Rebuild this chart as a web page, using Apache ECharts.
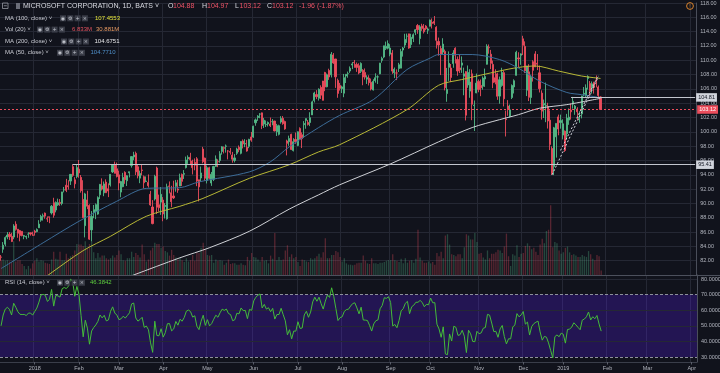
<!DOCTYPE html>
<html><head><meta charset="utf-8">
<script src="https://cdn.jsdelivr.net/npm/echarts/dist/echarts.min.js"></script>
<style>html,body{margin:0;padding:0;background:#11131c;overflow:hidden}#c{width:720px;height:373px}</style>
</head><body><div id="c"></div>
<script>
// ---------------- DATA ----------------
const monthLabels = ['2018','Feb','Mar','Apr','May','Jun','Jul','Aug','Sep','Oct','Nov','Dec','2019','Feb','Mar','Apr'];
const monthStartIdx = [16,37,56,77,98,120,141,162,185,204,227,248,267,288,307,328];
const totalSlots = 331; // trading-day slots incl. empty future space

// daily candles [open, high, low, close], 7 Dec 2017 .. 29 Jan 2019
const candles = [
// Dec 2017
[82.5,82.8,82.0,82.49],[83.6,84.6,83.1,84.16],[84.3,85.4,84.0,85.23],[85.3,86.0,85.0,85.58],[85.7,86.0,84.9,85.35],[85.4,85.9,84.6,84.69],[85.3,87.1,85.0,86.85],[87.1,87.5,86.2,86.38],[86.4,86.4,85.2,85.83],[86.2,86.3,84.7,85.52],[86.1,86.1,85.4,85.5],[85.4,85.6,85.0,85.51],[85.3,85.5,85.0,85.4],[85.7,85.98,85.2,85.71],[85.9,85.9,85.5,85.72],[85.6,86.05,85.5,85.54],
// Jan 2018
[86.13,86.31,85.5,85.95],[86.06,86.51,85.97,86.35],[86.59,87.66,86.57,87.11],[87.66,88.41,87.43,88.19],[88.2,88.58,87.6,88.28],[88.65,88.73,87.86,88.22],[87.86,88.19,87.41,87.82],[88.13,88.13,87.24,88.08],[88.67,89.78,88.45,89.6],[90.1,90.79,88.01,88.35],[89.08,90.28,88.75,90.14],[89.8,90.67,89.66,90.1],[90.14,90.61,89.66,90.0],[90.0,91.62,89.74,91.61],[91.9,92.3,91.54,91.9],[92.55,93.43,91.58,91.82],[92.47,93.24,91.93,92.33],[93.12,94.06,92.58,94.06],[95.14,95.45,93.72,93.92],[93.3,93.66,92.1,92.74],[93.75,95.4,93.51,95.01],
// Feb
[94.79,96.07,93.58,94.26],[93.64,93.97,91.5,91.78],[90.56,93.24,88.0,88.0],[86.89,91.48,85.25,91.33],[90.49,91.77,89.2,89.61],[89.71,89.88,84.9,85.01],[86.3,88.93,84.7,88.18],[88.74,89.78,87.93,89.13],[88.93,90.0,87.8,89.83],[88.51,90.99,88.41,90.81],[91.21,92.72,90.62,92.66],[92.45,93.5,91.8,92.0],[91.48,93.06,91.01,92.72],[92.98,93.36,91.49,91.49],[92.05,92.8,90.88,91.73],[92.59,94.07,92.36,94.06],[94.4,95.45,94.25,95.42],[95.36,95.84,94.2,94.2],[94.84,95.71,93.63,93.77],
// Mar
[93.99,94.57,91.84,92.85],[91.58,93.15,90.86,93.05],[92.34,94.27,92.26,93.64],[94.34,94.49,92.74,93.32],[93.16,93.94,92.43,93.86],[94.27,94.43,93.63,94.43],[95.29,96.54,95.0,96.54],[96.5,97.21,96.04,96.77],[97.0,97.24,93.97,94.41],[95.12,95.41,93.5,93.85],[93.53,94.58,92.83,94.18],[94.68,95.38,93.92,94.6],[93.74,93.9,92.11,92.89],[93.05,93.77,93.0,93.13],[92.93,94.05,92.21,92.48],[91.27,91.75,89.66,89.79],[89.5,90.46,87.08,87.18],[90.61,94.0,90.4,93.78],[94.94,95.14,88.51,89.47],[89.82,91.23,88.87,89.39],[90.18,92.29,88.4,91.27],
// Apr
[90.47,90.88,87.51,88.52],[89.58,90.05,87.89,89.71],[87.85,92.76,87.73,92.33],[92.44,93.07,91.4,92.38],[91.49,92.46,89.48,90.23],[91.04,93.17,90.62,90.77],[92.39,93.28,91.64,92.88],[92.01,93.29,91.48,91.86],[92.43,94.16,92.43,93.58],[94.05,94.18,92.44,93.08],[94.07,94.66,93.42,94.17],[95.0,96.54,94.88,96.07],[96.22,96.72,95.52,96.44],[96.44,97.07,95.34,96.11],[95.91,96.11,94.05,95.0],[95.74,96.29,94.63,95.35],[96.24,96.47,92.41,93.12],[93.3,93.3,90.28,92.31],[93.55,95.15,93.1,94.26],[97.6,97.9,95.6,95.82],[96.33,96.4,93.15,93.52],
// May
[93.21,95.29,92.79,95.0],[94.99,95.12,93.4,93.51],[92.85,94.4,92.45,94.07],[93.37,95.25,93.12,95.16],[95.17,96.71,95.1,96.22],[95.85,96.16,95.06,95.81],[96.01,97.3,95.68,96.94],[97.26,98.0,96.81,97.91],[97.79,97.95,96.98,97.7],[97.98,98.23,97.1,98.03],[97.33,97.45,96.15,97.32],[97.26,97.74,96.83,97.15],[96.75,97.2,95.69,96.18],[96.01,96.89,95.73,96.36],[97.0,97.78,96.78,97.6],[97.85,98.1,97.16,97.5],[97.0,98.69,96.86,98.66],[98.73,98.94,97.68,98.31],[98.3,98.98,97.86,98.36],[97.84,98.88,97.23,97.32],[97.98,99.03,97.72,98.95],[99.29,99.99,98.61,98.84],
// Jun
[99.28,100.86,99.17,100.79],[101.26,101.86,100.85,101.67],[102.0,102.33,101.53,102.19],[102.48,102.6,101.9,102.49],[102.65,102.69,100.38,100.88],[101.09,101.95,100.54,101.63],[101.01,101.59,100.67,101.05],[101.1,101.45,100.75,101.31],[101.1,102.0,100.67,100.85],[101.42,101.79,100.92,101.42],[101.51,101.53,100.07,100.13],[100.01,101.11,99.42,100.86],[99.65,101.0,99.5,100.86],[101.37,102.19,101.14,101.87],[101.9,102.21,100.99,101.14],[101.44,101.57,100.29,100.41],[98.73,98.9,96.71,98.39],[98.63,99.47,98.05,99.08],[99.66,99.74,97.45,97.54],[97.38,99.11,97.26,98.63],[98.93,99.91,98.33,98.61],
// Jul
[98.1,100.06,98.0,100.01],[100.48,100.63,98.94,98.99],[99.59,99.92,97.73,99.05],[101.0,101.5,99.16,101.16],[101.6,101.85,100.43,101.85],[101.31,101.65,100.88,101.03],[101.3,102.74,100.8,101.98],[102.37,104.36,102.35,104.19],[104.37,105.6,104.1,105.43],[105.21,105.83,104.57,104.91],[104.7,106.08,104.37,105.95],[106.22,106.5,104.59,105.12],[107.1,107.12,104.4,104.4],[108.3,108.38,105.68,106.27],[106.3,108.14,106.22,107.97],[108.57,108.82,107.26,107.66],[107.96,111.15,107.6,110.83],[110.74,111.0,109.5,109.62],[110.18,110.18,106.14,107.68],[107.19,107.44,104.76,105.37],[106.49,106.84,105.77,106.08],
// Aug
[106.03,106.45,105.42,106.28],[105.4,108.09,104.84,107.57],[107.8,108.05,106.82,108.04],[108.12,108.42,107.56,108.13],[108.5,109.14,108.24,108.88],[109.33,109.75,108.76,109.49],[109.71,110.04,108.95,109.67],[109.42,109.69,108.38,109.0],[109.24,109.58,108.05,108.21],[108.45,109.71,108.21,109.56],[108.6,108.76,106.51,107.66],[108.3,108.86,107.3,107.64],[107.36,107.9,106.69,107.58],[107.51,107.9,106.48,106.87],[106.92,107.45,105.78,105.98],[105.85,107.35,105.77,107.06],[107.15,108.18,106.87,107.56],[107.67,107.9,106.69,107.68],[108.1,109.64,108.05,109.6],[109.99,110.5,109.66,110.26],[110.45,112.03,110.29,112.02],[111.67,112.61,111.44,111.95],[111.69,112.78,111.52,112.33],
// Sep
[110.85,112.24,110.56,111.71],[111.01,111.42,108.1,108.49],[108.25,108.99,107.51,108.74],[108.23,108.72,107.23,108.21],[108.84,109.64,108.36,109.38],[108.9,111.59,108.89,111.24],[111.43,111.85,110.51,111.71],[112.12,113.7,111.72,112.91],[113.36,113.73,112.44,113.37],[113.69,113.7,111.6,111.7],[112.19,113.7,111.72,113.21],[113.05,113.75,112.54,113.57],[113.9,114.35,113.51,114.26],[114.85,115.06,113.7,114.26],[113.03,114.9,112.22,114.67],[114.8,115.1,114.11,114.45],[114.47,115.06,113.74,113.98],[114.78,114.91,114.2,114.41],[114.19,114.57,113.68,114.37],
// Oct
[114.75,115.68,114.73,115.61],[115.3,115.84,114.44,115.15],[115.42,116.18,114.93,115.17],[114.61,114.76,111.63,112.79],[112.63,113.17,110.64,112.13],[111.66,112.03,107.93,110.85],[111.14,113.08,110.8,112.26],[111.24,111.5,105.79,106.16],[105.35,108.93,104.2,105.91],[109.01,111.24,107.12,109.57],[108.91,109.48,106.95,107.6],[109.54,111.41,108.95,111.0],[111.68,111.81,109.55,110.71],[110.1,110.53,107.83,108.5],[108.93,110.86,108.21,108.66],[109.32,110.54,108.24,109.63],[107.77,108.97,105.11,108.1],[108.41,108.49,101.59,102.32],[106.55,109.27,106.15,108.3],[105.69,108.75,104.76,106.96],[108.11,108.7,101.63,103.85],[103.66,104.38,100.11,103.73],[105.44,108.14,105.39,106.81],
// Nov
[107.05,107.32,105.53,105.92],[106.48,107.32,104.98,106.16],[106.37,107.74,105.9,107.51],[107.38,108.84,106.28,107.72],[109.44,112.24,109.4,111.96],[111.8,112.21,110.91,111.75],[110.85,111.45,108.76,109.57],[109.42,109.96,106.1,106.87],[107.55,108.74,106.64,106.94],[108.1,108.26,104.47,104.97],[104.99,107.72,103.93,107.28],[106.48,108.95,106.3,108.29],[108.27,108.56,103.55,104.62],[101.8,102.97,99.35,101.71],[103.6,104.43,102.24,103.11],[102.17,103.81,102.0,103.07],[104.79,106.63,104.58,106.47],[106.27,107.33,105.36,107.14],[107.89,111.33,107.86,111.12],[110.33,111.12,109.03,110.19],[110.7,110.97,109.36,110.89],
// Dec
[113.0,113.42,110.73,112.09],[111.94,112.64,108.21,108.52],[105.82,109.24,105.0,109.19],[108.38,109.45,104.3,104.82],[104.8,107.98,103.89,107.59],[109.8,110.0,107.02,108.59],[110.89,111.27,109.04,109.08],[109.58,110.87,108.63,109.45],[108.25,109.26,105.5,106.03],[105.41,105.8,101.71,102.89],[103.75,104.51,101.93,103.97],[103.65,106.88,101.35,103.69],[103.54,104.06,100.46,101.51],[101.63,103.0,97.46,98.23],[97.68,97.97,93.98,94.13],[95.14,100.69,93.96,100.56],[99.3,101.19,96.4,101.18],[102.09,102.41,99.52,100.39],[101.29,102.4,100.44,101.57],
// Jan 2019
[99.55,101.75,98.94,101.12],[100.1,100.19,97.2,97.4],[99.72,102.51,98.93,101.93],[101.64,103.27,100.98,102.06],[103.04,103.97,101.71,102.8],[103.86,104.88,103.24,104.27],[103.22,103.75,102.38,103.6],[103.19,103.44,101.64,102.8],[101.9,102.87,101.26,102.05],[102.51,105.05,101.88,105.01],[105.26,106.26,104.96,105.38],[105.0,106.63,104.76,106.12],[107.46,107.9,105.91,107.71],[106.75,107.1,104.86,105.68],[106.12,107.04,105.34,106.71],[106.86,107.0,105.34,106.2],[107.24,107.88,106.2,107.17],[106.26,106.48,104.66,105.08],[104.88,104.97,103.12,103.12]
];

// daily volume, millions
const volumes = [
23,24,22,23,21,20,52,21,23,23,17,14,9,14,10,18,
22,26,21,23,22,19,18,17,24,36,25,24,36,23,23,33,26,29,31,38,48,
47,47,45,52,41,48,52,35,26,34,27,30,30,26,24,26,30,27,31,
38,32,23,22,26,26,36,28,34,31,27,47,32,21,24,38,42,50,48,48,42,
44,37,35,30,39,31,27,24,27,23,20,26,21,23,31,22,35,34,42,50,40,
31,30,31,19,24,22,23,22,16,19,24,17,18,18,16,16,18,16,15,28,22,34,
28,27,24,21,28,22,23,18,30,25,65,23,28,23,24,38,46,28,32,26,28,
20,14,24,23,21,20,26,24,26,29,33,27,35,57,26,26,31,31,37,35,28,
21,26,18,16,16,15,16,18,19,19,30,22,18,17,26,18,18,17,19,19,20,22,23,
23,32,23,22,20,25,18,26,19,22,23,19,25,70,27,22,19,19,21,
18,20,16,34,29,36,26,61,63,47,32,31,29,32,32,26,43,63,61,55,55,65,51,
33,34,27,24,38,26,33,33,35,39,38,34,44,64,29,14,32,30,46,28,33,
34,45,49,45,40,42,36,31,47,56,49,68,70,108,43,51,49,38,33,
35,42,44,35,31,32,30,28,28,31,29,28,37,32,25,23,31,29,6.833
];

// moving averages: [slot index, value]
const ma50Pts  = [[0,80.9],[20,84.5],[37,87.5],[55,90.3],[69,92.1],[85,92.2],[94,93.0],[118,94.4],[128,95.8],[137,97.9],[151,100.6],[161,102.3],[177,104.5],[193,108.7],[204,110.3],[208,110.8],[224,110.8],[237,110.1],[246,108.9],[256,107.1],[269,105.5],[276,105.2],[285,104.77]];
const ma100Pts = [[0,75.2],[22,79.9],[39,83.4],[52,85.4],[69,88.2],[85,89.6],[96,90.7],[118,93.5],[137,95.4],[151,97.2],[161,98.2],[193,103.1],[208,106.5],[219,107.3],[237,108.5],[246,109.0],[254,109.2],[265,108.5],[276,107.8],[285,107.46]];
const ma200Pts = [[0,73.2],[63,80.0],[85,82.4],[99,83.8],[118,86.1],[137,89.2],[151,91.2],[161,92.6],[185,95.5],[208,98.6],[224,100.6],[237,101.7],[246,102.4],[256,103.3],[269,103.8],[285,104.68]];

// drawings
const lastPrice = 103.12;
const hLevels = [{value:104.81, from:271}, {value:95.41, from:34}];
const trendLines = [[[262,94.0],[284,107.7]], [[266,97.4],[284,107.9]]];
const rsiSeedAvg = 0.4; // initial avg gain = avg loss (RSI 50 at first bar)
const rsiLevels = [30,40,50,60,70,80];

const titleText = 'MICROSOFT CORPORATION, 1D, BATS';
const ohlcText = ['O','104.88','H','104.97','L','103.12','C','103.12','-1.96 (-1.87%)'];
const legendTexts = [
  ['MA (100, close)', ['107.4553']],
  ['Vol (20)', ['6.833M','30.881M']],
  ['MA (200, close)', ['104.6751']],
  ['MA (50, close)', ['104.7710']]
];
const rsiLegend = ['RSI (14, close)', '46.3842'];

// ---------------- STYLE / LAYOUT ----------------
const BG = '#11131c', GRID = '#252834', TXT = '#b2b5be', FONT = 'Liberation Sans';
const UP = '#53b987', DOWN = '#eb4d5c';
const W = 697;

const slots = Array.from({length: totalSlots}, (_, i) => String(i));
const labelMap = {};
monthStartIdx.forEach((k, i) => { labelMap[k] = monthLabels[i]; });
const isMonth = (i) => labelMap[i] !== undefined;

// RSI (Wilder) from closes
const closes = candles.map(r => r[3]);
const rsi = [];
let ag = rsiSeedAvg, al = rsiSeedAvg;
rsi.push(+(100 - 100 / (1 + ag / al)).toFixed(2));
for (let i = 1; i < closes.length; i++) {
  const ch = closes[i] - closes[i - 1];
  ag = (ag * 13 + Math.max(ch, 0)) / 14;
  al = (al * 13 + Math.max(-ch, 0)) / 14;
  rsi.push(+(100 - 100 / (1 + ag / al)).toFixed(2));
}

const candleData = candles.map(r => [r[0], r[3], r[2], r[1]]);
const volData = volumes.map((v, i) => ({
  value: v,
  itemStyle: {color: candles[i][3] >= candles[i][0] ? 'rgba(83,185,135,0.32)' : 'rgba(235,77,92,0.32)'}
}));

const badge = (txt, bg, fg) => ({
  show: true, position: 'end', formatter: txt, distance: 1,
  backgroundColor: bg, color: fg, fontSize: 5.5, fontFamily: FONT,
  padding: [1.5, 2, 1, 2], borderRadius: 0
});

const priceMarks = [
  {yAxis: lastPrice, lineStyle: {color: DOWN, type: [2, 2], width: 1, opacity: 1}, label: badge(lastPrice.toFixed(2), DOWN, '#ffffff')}
];
hLevels.forEach(lv => {
  const st = {color: '#c3c6ce', type: 'solid', width: 1};
  priceMarks.push([
    {coord: [lv.from, lv.value], lineStyle: st, label: badge(lv.value.toFixed(2), '#d1d4dc', '#131722')},
    {coord: [totalSlots - 1, lv.value], lineStyle: st, label: badge(lv.value.toFixed(2), '#d1d4dc', '#131722')}
  ]);
});
trendLines.forEach(tl => {
  const st = {color: '#d1d4dc', type: [2, 2], width: 1};
  priceMarks.push([{coord: tl[0], lineStyle: st, label: {show: false}}, {coord: tl[1], lineStyle: st, label: {show: false}}]);
});

const rsiMarks = rsiLevels.map(v => ({
  yAxis: v,
  lineStyle: (v === 30 || v === 70) ? {color: '#8d909b', type: [3, 2], width: 1} : {color: GRID, type: 'solid', width: 1},
  label: {show: true, position: 'end', formatter: v.toFixed(4), color: TXT, fontSize: 5.5, fontFamily: FONT, distance: 4}
}));

// ---------------- GRAPHICS (legend) ----------------
const g = [];
const txt = (x, y, t, fill, size) => g.push({type: 'text', x: x, y: y, silent: true, z: 100,
  style: {text: t, fill: fill, fontSize: size, fontFamily: FONT, verticalAlign: 'middle', align: 'left'}});
const icons = (x0, y) => {
  const glyphs = ['◉', '⚙', '+', '×'];
  for (let i = 0; i < 4; i++) {
    const x = x0 + i * 7.3;
    g.push({type: 'rect', silent: true, z: 100, shape: {x: x, y: y - 3, width: 6, height: 6}, style: {fill: '#3a3d48'}});
    g.push({type: 'text', silent: true, z: 101, x: x + 3, y: y, style: {text: glyphs[i], fill: '#c3c6ce', fontSize: 5, fontFamily: 'DejaVu Sans', align: 'center', verticalAlign: 'middle'}});
  }
};
// title row
g.push({type: 'rect', silent: true, z: 100, shape: {x: 2.5, y: 3, width: 5.5, height: 5.5}, style: {fill: 'none', stroke: '#9598a1', lineWidth: 0.8}});
g.push({type: 'line', silent: true, z: 100, shape: {x1: 3.8, y1: 5.75, x2: 6.8, y2: 5.75}, style: {stroke: '#9598a1', lineWidth: 0.8}});
g.push({type: 'rect', silent: true, z: 100, shape: {x: 16, y: 3, width: 4, height: 6}, style: {fill: '#6a6d78'}});
txt(23, 6.3, titleText + ' ˅', '#d7d9e0', 7);
const ohlcX = [168, 173, 202, 207, 235, 239.5, 267, 272, 299];
ohlcText.forEach((t, i) => txt(ohlcX[i], 6.3, t, (i % 2 === 0 && i < 8) ? '#d7d9e0' : '#ee5366', 7));
// indicator rows
const rowY = [18.3, 29.6, 41.5, 52.8];
const rowIconX = [60, 37, 61, 57];
const rowValX = [[95], [72, 96], [94.5], [90.5]];
const rowValC = [['#e3e33a'], ['#e4525f', '#e99b63'], ['#e8e8ea'], ['#4f8fc9']];
legendTexts.forEach((r, i) => {
  txt(5, rowY[i], r[0] + ' ˅', '#c8cad2', 6);
  icons(rowIconX[i], rowY[i]);
  r[1].forEach((v, j) => txt(rowValX[i][j], rowY[i], v, rowValC[i][j], 6));
});
// RSI legend
txt(5, 282.7, rsiLegend[0] + ' ˅', '#c8cad2', 6);
icons(57, 282.7);
txt(90, 282.7, rsiLegend[1], '#5fd03f', 6);
// pane separator
g.push({type: 'line', silent: true, z: 90, shape: {x1: 0, y1: 275.5, x2: 720, y2: 275.5}, style: {stroke: '#4c505c', lineWidth: 1}});
// top-right icon
g.push({type: 'circle', silent: true, z: 100, shape: {cx: 690, cy: 6, r: 3.4}, style: {fill: 'none', stroke: '#d9822b', lineWidth: 1}});
g.push({type: 'text', silent: true, z: 100, x: 690, y: 6.2, style: {text: '!', fill: '#d9822b', fontSize: 5, fontFamily: FONT, align: 'center', verticalAlign: 'middle'}});

// ---------------- OPTION ----------------
const monthSplit = {show: true, interval: (i) => isMonth(i), lineStyle: {color: GRID, width: 1}};
const option = {
  animation: false,
  backgroundColor: BG,
  grid: [
    {left: 0, top: 0, width: W, height: 275},
    {left: 0, top: 178, width: W, height: 97},
    {left: 0, top: 275, width: W, height: 87}
  ],
  xAxis: [
    {type: 'category', gridIndex: 0, data: slots, boundaryGap: true, axisLine: {show: false}, axisTick: {show: false}, axisLabel: {show: false}, splitLine: monthSplit},
    {type: 'category', gridIndex: 1, data: slots, boundaryGap: true, show: false},
    {type: 'category', gridIndex: 2, data: slots, boundaryGap: true,
      axisLine: {show: true, lineStyle: {color: '#3a3e4a'}},
      axisTick: {show: true, interval: (i) => isMonth(i), length: 2.5, alignWithLabel: true, lineStyle: {color: '#5a5e6a'}},
      axisLabel: {interval: (i) => isMonth(i), formatter: (v) => labelMap[+v] || '', color: TXT, fontSize: 5.5, fontFamily: FONT, margin: 3.5},
      splitLine: monthSplit}
  ],
  yAxis: [
    {type: 'value', gridIndex: 0, position: 'right', min: 80, max: 118, interval: 2,
      axisLine: {show: true, lineStyle: {color: '#4a4e5a'}}, axisTick: {show: false},
      axisLabel: {color: TXT, fontSize: 5.5, fontFamily: FONT, margin: 4, formatter: (v) => v === 80 ? '' : v.toFixed(2)},
      splitLine: {show: true, lineStyle: {color: GRID, width: 1}}},
    {type: 'value', gridIndex: 1, min: 0, max: 150, show: false},
    {type: 'value', gridIndex: 2, position: 'right', min: 26.8, max: 82.56,
      axisLine: {show: true, lineStyle: {color: '#4a4e5a'}}, axisTick: {show: false}, axisLabel: {show: false}, splitLine: {show: false}}
  ],
  series: [
    {type: 'bar', name: 'vol', xAxisIndex: 1, yAxisIndex: 1, data: volData, barWidth: 1.3, silent: true, z: 1},
    {type: 'candlestick', name: 'MSFT', xAxisIndex: 0, yAxisIndex: 0, data: candleData, barWidth: 1.6, z: 3,
      itemStyle: {color: UP, color0: DOWN, borderColor: UP, borderColor0: DOWN, borderWidth: 0.9},
      markLine: {symbol: ['none', 'none'], silent: true, animation: false,
        lineStyle: {color: DOWN, type: [2, 2], width: 1}, data: priceMarks}},
    {type: 'line', name: 'MA100', xAxisIndex: 0, yAxisIndex: 0, data: ma100Pts, showSymbol: false, smooth: 0.3, silent: true, z: 4, lineStyle: {color: '#b8b836', width: 1}},
    {type: 'line', name: 'MA200', xAxisIndex: 0, yAxisIndex: 0, data: ma200Pts, showSymbol: false, smooth: 0.3, silent: true, z: 4, lineStyle: {color: '#cfd1d6', width: 1}},
    {type: 'line', name: 'MA50', xAxisIndex: 0, yAxisIndex: 0, data: ma50Pts, showSymbol: false, smooth: 0.3, silent: true, z: 4, lineStyle: {color: '#3c6c98', width: 1}},
    {type: 'line', name: 'RSI', xAxisIndex: 2, yAxisIndex: 2, data: rsi, showSymbol: false, silent: true, z: 5, lineStyle: {color: '#44bb3a', width: 1},
      markArea: {silent: true, itemStyle: {color: 'rgba(92,26,247,0.25)'}, data: [[{yAxis: 30}, {yAxis: 70}]]},
      markLine: {symbol: ['none', 'none'], silent: true, animation: false, data: rsiMarks}}
  ],
  graphic: g
};
const chart = echarts.init(document.getElementById('c'), null, {width: 720, height: 373});
chart.setOption(option);
</script>
</body></html>
